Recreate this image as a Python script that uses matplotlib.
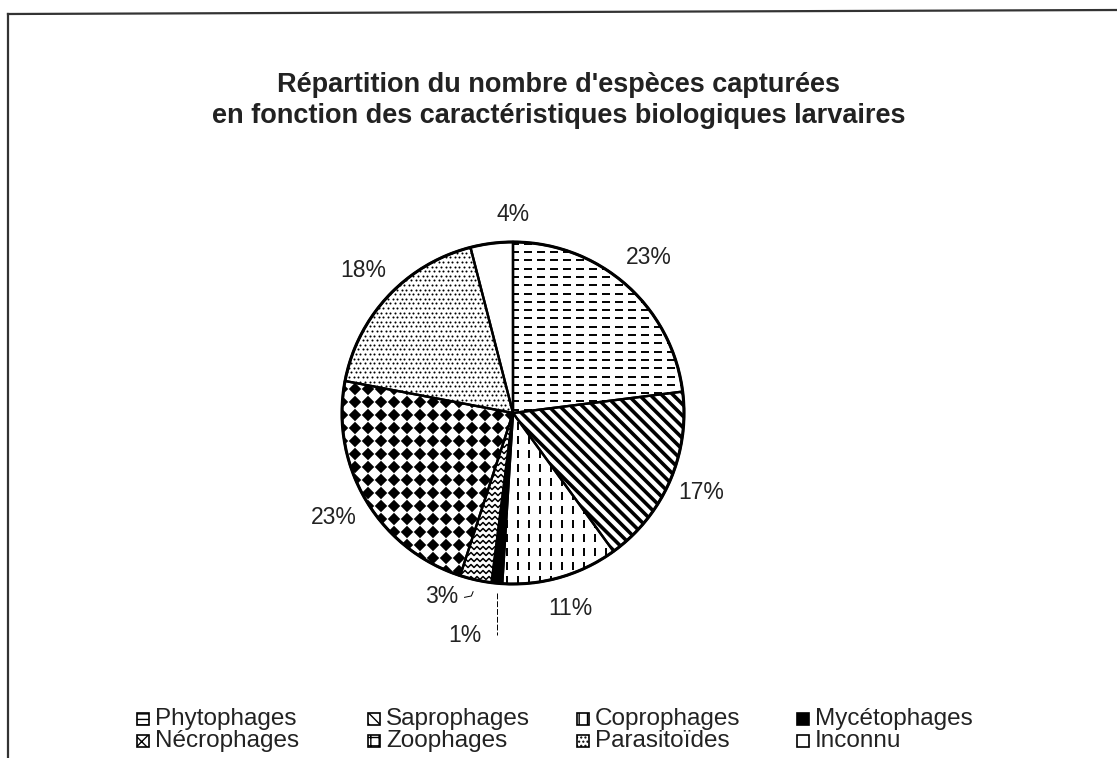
import numpy as np
import matplotlib
matplotlib.use('Agg')
import matplotlib.pyplot as plt
from matplotlib.patches import Rectangle, Wedge
from matplotlib.collections import LineCollection, PolyCollection
from matplotlib.lines import Line2D

plt.rcParams['font.family'] = ['Liberation Sans', 'DejaVu Sans']
plt.rcParams['hatch.linewidth'] = 1.0

# data
categories = ['Phytophages', 'Saprophages', 'Coprophages', 'Mycétophages',
              'Nécrophages', 'Zoophages', 'Parasitoïdes', 'Inconnu']
percents = [23, 17, 11, 1, 3, 23, 18, 4]
title_lines = ["Répartition du nombre d'espèces capturées",
               "en fonction des caractéristiques biologiques larvaires"]

W, H = 1117, 758
fig = plt.figure(figsize=(W / 100, H / 100), dpi=100)

# pie placed in pixel units (centre, radius)
cx, cy, R = 513, 413, 171
span = 1.6
ax = fig.add_axes([(cx - span * R) / W, (H - cy - span * R) / H,
                   2 * span * R / W, 2 * span * R / H])

wedges, _ = ax.pie(percents, radius=1, startangle=90, counterclock=False,
                   colors=['white'] * len(percents),
                   wedgeprops=dict(edgecolor='none', linewidth=0))
ax.set_xlim(-span, span)
ax.set_ylim(-span, span)
ax.axis('off')

u = 1.0 / R  # one pixel in data units


def pat_hdash():
    segs = []
    for y in np.arange(-1.0, 1.0, 8.3 * u):
        for x in np.arange(-1.0, 1.0, 13 * u):
            segs.append([(x, y), (x + 8 * u, y)])
    return LineCollection(segs, colors='k', linewidths=1.4)


def pat_diag():
    segs = []
    step = 8 * np.sqrt(2) * u
    for c in np.arange(-2.2, 2.2, step):
        segs.append([(-1.2, c + 1.2), (1.2, c - 1.2)])
    return LineCollection(segs, colors='k', linewidths=2.6)


def pat_vdash():
    segs = []
    for x in np.arange(-1.0, 1.0, 11 * u):
        for y in np.arange(-1.0, 1.0, 14 * u):
            segs.append([(x, y), (x, y + 8 * u)])
    return LineCollection(segs, colors='k', linewidths=1.4)


def pat_zigzag():
    segs = []
    xs = np.arange(-1.0, 1.0, 3 * u)
    for y in np.arange(-1.0, 1.0, 6 * u):
        ys = y + np.where(np.arange(len(xs)) % 2 == 0, -1.5 * u, 1.5 * u)
        segs.append(np.column_stack([xs, ys]))
    return LineCollection(segs, colors='k', linewidths=1.1)


def pat_diamonds():
    s = 13 * u
    h = 0.48 * s
    polys = []
    for x in np.arange(-1.0, 1.0, s):
        for y in np.arange(-1.0, 1.0, s):
            polys.append([(x - h, y), (x, y + h), (x + h, y), (x, y - h)])
    return PolyCollection(polys, facecolors='k', edgecolors='none')


def pat_dots():
    pts = []
    s = 4.6 * u
    for j, y in enumerate(np.arange(-1.0, 1.0, s)):
        off = (j % 2) * s / 2
        for x in np.arange(-1.0, 1.0, s):
            pts.append((x + off, y))
    return np.array(pts)


patterns = [pat_hdash, pat_diag, pat_vdash, None, pat_zigzag, pat_diamonds, 'dots', None]

for w, pat in zip(wedges, patterns):
    if pat is None:
        continue
    if pat == 'dots':
        pts = pat_dots()
        sc = ax.scatter(pts[:, 0], pts[:, 1], s=2.2, c='k', linewidths=0, zorder=2)
        sc.set_clip_path(w)
        continue
    col = pat()
    col.set_zorder(2)
    ax.add_collection(col)
    col.set_clip_path(w)

# Mycétophages solid black
wedges[3].set_facecolor('black')

# outlines on top
for w in wedges:
    ax.add_patch(Wedge((0, 0), 1, w.theta1, w.theta2, fill=False,
                       ec='black', lw=1.7, zorder=4))
ax.add_patch(Wedge((0, 0), 1, 0, 360, fill=False, ec='black', lw=2.2, zorder=5))

# percentage labels
label_r = [1.2, 1.2, 1.2, 1.34, 1.16, 1.22, 1.2, 1.15]
label_ang = {3: -102, 4: -111, 7: 90}
for i, (w, p) in enumerate(zip(wedges, percents)):
    mid = (w.theta1 + w.theta2) / 2
    ang = np.deg2rad(label_ang.get(i, mid))
    ax.text(label_r[i] * np.cos(ang), label_r[i] * np.sin(ang) + 0.01, f'{p}%',
            ha='center', va='center', fontsize=16.5, color='#222222')

# leader lines for the two small slices
m3 = np.deg2rad((wedges[3].theta1 + wedges[3].theta2) / 2)
ax.plot([np.cos(m3), np.cos(m3)], [-1.05, -1.30], color='k', lw=0.7,
        ls=(0, (6, 2)), zorder=3)
m4 = np.deg2rad((wedges[4].theta1 + wedges[4].theta2) / 2)
hx = 1.07 * np.cos(m4)
ax.plot([hx, hx - 0.01, hx - 0.05], [-1.045, -1.07, -1.078], color='k', lw=0.7, zorder=3)

# title
fig.text(0.5, 1 - 85 / H, title_lines[0], ha='center', va='center',
         fontsize=19.5, fontweight='bold', color='#222222')
fig.text(0.5, 1 - 116 / H, title_lines[1], ha='center', va='center',
         fontsize=19.5, fontweight='bold', color='#222222')

# frame (top and left edges of the chart area)
fig.add_artist(Line2D([8 / W, 1], [1 - 14 / H, 1 - 10 / H], color='#333333', lw=1.6))
fig.add_artist(Line2D([8 / W, 8 / W], [1 - 14 / H, 0], color='#333333', lw=1.6))

# legend, 4 columns x 2 rows
leg_hatch = ['---', '\\\\\\', '||', None, 'xx', '++', '....', None]
leg_face = ['white', 'white', 'white', 'black', 'white', 'white', 'white', 'white']
col_x = [137, 368, 577, 797]
row_y = [719, 741]
sw = 12
for i, name in enumerate(categories):
    x0 = col_x[i % 4]
    y0 = row_y[i // 4]
    fig.add_artist(Rectangle((x0 / W, 1 - (y0 + sw / 2) / H), sw / W, sw / H,
                             transform=fig.transFigure, facecolor=leg_face[i],
                             edgecolor='black', hatch=leg_hatch[i], lw=1.2))
    fig.text((x0 + sw + 6) / W, 1 - y0 / H, name, ha='left', va='center',
             fontsize=17.5, color='#222222')

fig.savefig('out.png', dpi=100)
